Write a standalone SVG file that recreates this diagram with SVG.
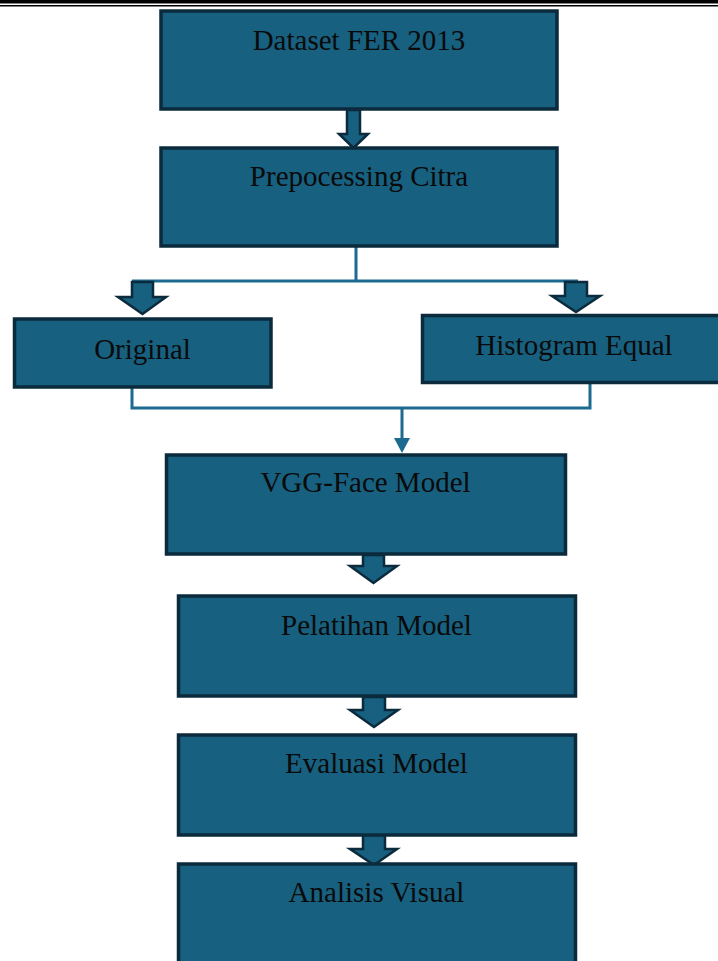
<svg xmlns="http://www.w3.org/2000/svg" width="718" height="961" viewBox="0 0 718 961">
<style>
.box{fill:#17607f;stroke:#0b2a3c;stroke-width:3.5}
.lbl{font-family:"Liberation Serif","Times New Roman",serif;font-size:29px;fill:#0a0a0a;text-anchor:middle}
.blk{fill:#17607f;stroke:#0b2a3c;stroke-width:2.5;stroke-linejoin:miter}
.ln{fill:none;stroke:#1c6a8f;stroke-width:3}
</style>
<rect x="0" y="0" width="718" height="3.5" fill="#000"/>
<rect x="0" y="5" width="718" height="1.5" fill="#000"/>
<g id="connectors">
<polygon class="blk" points="347,110 360,110 360,134 368,134 353.5,148 339,134 347,134"/>
<path class="ln" d="M356,247 V281 M132,281 H578"/>
<polygon class="blk" points="132,282 153,282 153,297 166,297 142.5,314 118,297 132,297"/>
<polygon class="blk" points="565,282 587,282 587,296 600,296 576,312 552,296 565,296"/>
<path class="ln" d="M132,388 V408 H590 V383 M402,408 V440"/>
<polygon points="394,438 410,438 402,453" fill="#1c6a8f"/>
<polygon class="blk" points="363,555 384,555 384,566 397,566 373.5,583 350,566 363,566"/>
<polygon class="blk" points="363,697 385,697 385,710 398,710 374,727 350,710 363,710"/>
<polygon class="blk" points="363,835 385,835 385,849 397,849 374,865 350,849 363,849"/>
</g>
<g id="n1"><rect class="box" x="161" y="11" width="396" height="98"/><text class="lbl" x="359" y="50">Dataset FER 2013</text></g>
<g id="n2"><rect class="box" x="161" y="148" width="396" height="98"/><text class="lbl" x="359" y="186">Prepocessing Citra</text></g>
<g id="n3"><rect class="box" x="14.5" y="319" width="256.5" height="68"/><text class="lbl" x="142.5" y="359">Original</text></g>
<g id="n4"><rect class="box" x="422.5" y="315.5" width="310" height="67"/><text class="lbl" x="574" y="355">Histogram Equal</text></g>
<g id="n5"><rect class="box" x="166.5" y="455" width="399" height="99"/><text class="lbl" x="365.5" y="492">VGG-Face Model</text></g>
<g id="n6"><rect class="box" x="178.5" y="596" width="397" height="100"/><text class="lbl" x="376.5" y="635">Pelatihan Model</text></g>
<g id="n7"><rect class="box" x="178.5" y="735" width="397" height="100"/><text class="lbl" x="376.5" y="773">Evaluasi Model</text></g>
<g id="n8"><rect class="box" x="178.5" y="864" width="397" height="110"/><text class="lbl" x="376.5" y="902">Analisis Visual</text></g>
</svg>
